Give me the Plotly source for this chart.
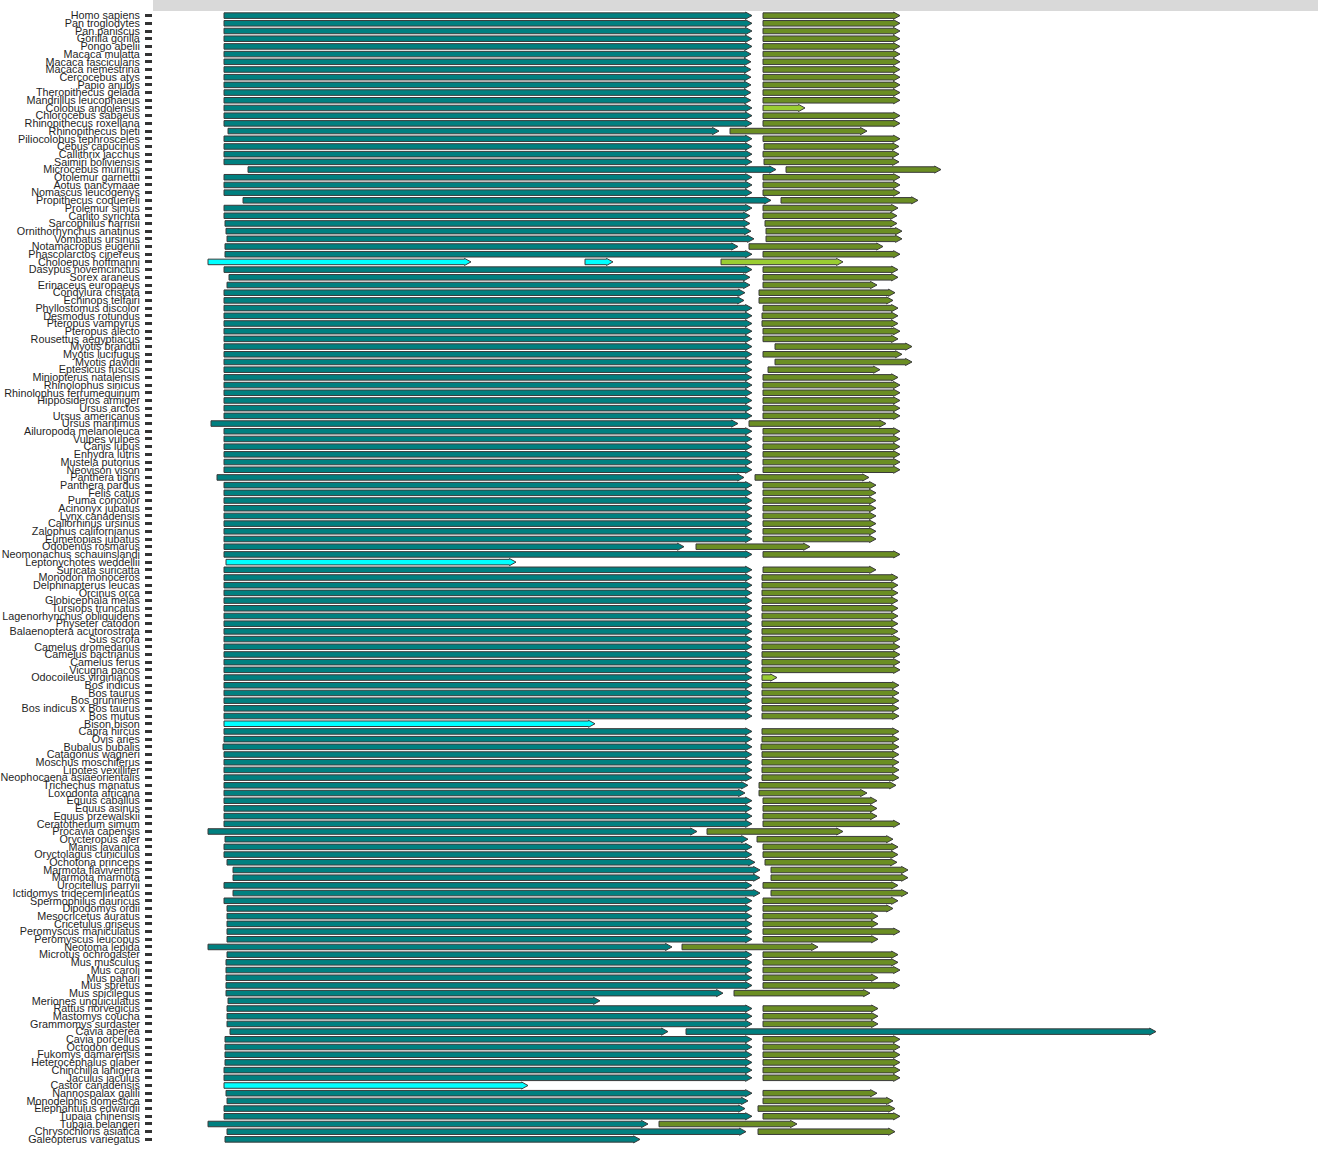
import plotly.graph_objects as go

# Species in plotting order (top to bottom)
species = [
    "Homo sapiens", "Pan troglodytes", "Pan paniscus", "Gorilla gorilla", "Pongo abelii",
    "Macaca mulatta", "Macaca fascicularis", "Macaca nemestrina", "Cercocebus atys", "Papio anubis",
    "Theropithecus gelada", "Mandrillus leucophaeus", "Colobus angolensis", "Chlorocebus sabaeus",
    "Rhinopithecus roxellana", "Rhinopithecus bieti", "Piliocolobus tephrosceles", "Cebus capucinus",
    "Callithrix jacchus", "Saimiri boliviensis", "Microcebus murinus", "Otolemur garnettii",
    "Aotus nancymaae", "Nomascus leucogenys", "Propithecus coquereli", "Prolemur simus",
    "Carlito syrichta", "Sarcophilus harrisii", "Ornithorhynchus anatinus", "Vombatus ursinus",
    "Notamacropus eugenii", "Phascolarctos cinereus", "Choloepus hoffmanni", "Dasypus novemcinctus",
    "Sorex araneus", "Erinaceus europaeus", "Condylura cristata", "Echinops telfairi",
    "Phyllostomus discolor", "Desmodus rotundus", "Pteropus vampyrus", "Pteropus alecto",
    "Rousettus aegyptiacus", "Myotis brandtii", "Myotis lucifugus", "Myotis davidii",
    "Eptesicus fuscus", "Miniopterus natalensis", "Rhinolophus sinicus", "Rhinolophus ferrumequinum",
    "Hipposideros armiger", "Ursus arctos", "Ursus americanus", "Ursus maritimus",
    "Ailuropoda melanoleuca", "Vulpes vulpes", "Canis lupus", "Enhydra lutris", "Mustela putorius",
    "Neovison vison", "Panthera tigris", "Panthera pardus", "Felis catus", "Puma concolor",
    "Acinonyx jubatus", "Lynx canadensis", "Callorhinus ursinus", "Zalophus californianus",
    "Eumetopias jubatus", "Odobenus rosmarus", "Neomonachus schauinslandi", "Leptonychotes weddellii",
    "Suricata suricatta", "Monodon monoceros", "Delphinapterus leucas", "Orcinus orca",
    "Globicephala melas", "Tursiops truncatus", "Lagenorhynchus obliquidens", "Physeter catodon",
    "Balaenoptera acutorostrata", "Sus scrofa", "Camelus dromedarius", "Camelus bactrianus",
    "Camelus ferus", "Vicugna pacos", "Odocoileus virginianus", "Bos indicus", "Bos taurus",
    "Bos grunniens", "Bos indicus x Bos taurus", "Bos mutus", "Bison bison", "Capra hircus",
    "Ovis aries", "Bubalus bubalis", "Catagonus wagneri", "Moschus moschiferus", "Lipotes vexillifer",
    "Neophocaena asiaeorientalis", "Trichechus manatus", "Loxodonta africana", "Equus caballus",
    "Equus asinus", "Equus przewalskii", "Ceratotherium simum", "Procavia capensis",
    "Orycteropus afer", "Manis javanica", "Oryctolagus cuniculus", "Ochotona princeps",
    "Marmota flaviventris", "Marmota marmota", "Urocitellus parryii", "Ictidomys tridecemlineatus",
    "Spermophilus dauricus", "Dipodomys ordii", "Mesocricetus auratus", "Cricetulus griseus",
    "Peromyscus maniculatus", "Peromyscus leucopus", "Neotoma lepida", "Microtus ochrogaster",
    "Mus musculus", "Mus caroli", "Mus pahari", "Mus spretus", "Mus spicilegus",
    "Meriones unguiculatus", "Rattus norvegicus", "Mastomys coucha", "Grammomys surdaster",
    "Cavia aperea", "Cavia porcellus", "Octodon degus", "Fukomys damarensis",
    "Heterocephalus glaber", "Chinchilla lanigera", "Jaculus jaculus", "Castor canadensis",
    "Nannospalax galili", "Monodelphis domestica", "Elephantulus edwardii", "Tupaia chinensis",
    "Tupaia belangeri", "Chrysochloris asiatica", "Galeopterus variegatus",
]

N = None
# Upstream gene (bp, relative to locus start); None where not annotated
gene1_start = [
    0, 0, 0, 0, 0, 0, 0, 0, 0, 0, 0, 0, 0, 0, 0, 160, 0, 0, 0, 0,
    960, 0, 0, 0, 760, 0, 0, 40, 80, 120, 40, 40, N, 0, 200, 120, 0, 0, 0, 0,
    0, 0, 0, 0, 0, 0, 0, 0, 0, 0, 0, 0, 0, -520, 0, 0, 0, 0, 0, 0,
    -280, 0, 0, 0, 0, 0, 0, 0, 0, 0, 0, N, 0, 0, 0, 0, 0, 0, 0, 0,
    0, 0, 0, 0, 0, 0, 0, 0, 0, 0, 0, 0, N, 0, 0, -40, 0, 0, 0, 0,
    0, 0, 0, 0, 0, 0, -640, 40, 0, 0, 120, 360, 360, 0, 360, 0, 120, 120, 120, 120,
    120, -640, 120, 80, 80, 80, 80, 80, 160, 120, 120, 120, 240, 40, 40, 40, 40, 0, 0, N,
    80, 120, 0, 0, -640, 120, 40,
]
gene1_end = [
    21120, 21120, 21120, 21120, 21120, 21080, 21080, 21080, 21080, 21080, 21080, 21080, 21120, 21120, 21120, 19800, 21120, 21120, 21120, 21120,
    22080, 21120, 21120, 21120, 21880, 21120, 21040, 21040, 21080, 21200, 20560, 21120, N, 21120, 21040, 21040, 20840, 20800, 21120, 21120,
    21120, 21120, 21120, 21120, 21120, 21120, 21120, 21120, 21120, 21120, 21120, 21120, 21120, 20560, 21120, 21120, 21120, 21120, 21120, 21120,
    20800, 21120, 21120, 21120, 21120, 21120, 21120, 21120, 21120, 18400, 21120, N, 21120, 21120, 21120, 21120, 21120, 21120, 21120, 21120,
    21120, 21120, 21120, 21120, 21120, 21120, 21120, 21120, 21120, 21120, 21120, 21120, N, 21120, 21120, 21120, 21120, 21120, 21120, 21120,
    20960, 20840, 21120, 21120, 21120, 21120, 18920, 20960, 21120, 21120, 21240, 21440, 21440, 21120, 21440, 21120, 21120, 21120, 21120, 21120,
    21120, 17920, 21120, 21120, 21120, 21120, 21120, 19960, 15040, 21120, 21120, 21120, 17760, 21120, 21120, 21120, 21120, 21120, 21120, N,
    21120, 20960, 20840, 21120, 16960, 20880, 16640,
]
# Downstream gene
gene2_start = [
    21560, 21560, 21560, 21560, 21560, 21560, 21560, 21560, 21560, 21560, 21560, 21560, 21560, 21560, 21560, 20240, 21560, 21600, 21560, 21600,
    22480, 21560, 21560, 21560, 22280, 21560, 21560, 21640, 21680, 21680, 21000, 21560, 19880, 21560, 21560, 21560, 21400, 21400, 21560, 21520,
    21520, 21560, 21560, 22040, 21560, 22040, 21760, 21560, 21560, 21560, 21560, 21560, 21560, 21000, 21560, 21560, 21560, 21560, 21560, 21560,
    21240, 21560, 21560, 21560, 21560, 21560, 21560, 21560, 21560, 18880, 21560, N, 21560, 21520, 21520, 21520, 21520, 21520, 21520, 21520,
    21520, 21520, 21520, 21520, 21520, 21520, 21520, 21520, 21520, 21520, 21520, 21520, N, 21520, 21520, 21480, 21520, 21520, 21520, 21520,
    21400, 21400, 21560, 21560, 21560, 21560, 19320, 21320, 21560, 21560, 21640, 21880, 21880, 21560, 21880, 21560, 21560, 21560, 21560, 21560,
    21560, 18320, 21560, 21560, 21560, 21560, 21560, 20400, N, 21560, 21560, 21560, N, 21560, 21560, 21560, 21560, 21560, 21560, N,
    21560, 21560, 21360, 21560, 17400, 21360, N,
]
gene2_end = [
    27040, 27040, 27040, 27040, 27040, 27040, 27040, 27040, 27040, 27040, 27040, 27040, 23240, 27040, 27040, 25720, 27040, 27000, 27000, 27000,
    28680, 27040, 27040, 27040, 27760, 26960, 26920, 26920, 27120, 27120, 26360, 27040, 24760, 26960, 26960, 26120, 26840, 26760, 26960, 26960,
    26960, 27040, 26960, 27520, 27120, 27520, 26240, 26960, 27040, 27040, 27040, 27040, 27040, 26480, 27040, 27040, 27040, 27040, 27040, 27040,
    25800, 26080, 26080, 26080, 26080, 26080, 26080, 26080, 26080, 23440, 27040, N, 26080, 26960, 26960, 26960, 26960, 26960, 26960, 26960,
    26960, 27040, 27040, 27040, 27040, 27040, 22120, 27000, 27000, 27000, 27000, 27000, N, 27000, 27000, 27000, 27000, 27000, 27000, 27000,
    26880, 25720, 26120, 26120, 26120, 27040, 24760, 26760, 26960, 26960, 26920, 27360, 27360, 26960, 27360, 26960, 26760, 26160, 26160, 27040,
    26160, 23760, 26960, 26960, 27040, 26160, 27040, 25840, N, 26160, 26160, 26160, N, 27040, 27040, 27040, 27040, 27040, 27040, N,
    26120, 26760, 26840, 27040, 22920, 26840, N,
]
# Rows where the downstream gene is only partially annotated
gene2_partial = ["Colobus angolensis", "Choloepus hoffmanni", "Odocoileus virginianus"]

# Additional features: fragments of the upstream gene and a second upstream copy
extra_species = ["Choloepus hoffmanni", "Choloepus hoffmanni", "Leptonychotes weddellii",
                 "Bison bison", "Castor canadensis", "Cavia aperea"]
extra_start = [-640, 14440, 80, 0, 0, 18480]
extra_end = [9880, 15560, 11680, 14840, 12160, 37280]
extra_kind = ["fragment", "fragment", "fragment", "fragment", "fragment", "gene1"]

fills = {
    "gene1": "#008080",
    "gene2": "#6B8E23",
    "gene2_partial": "#9ACD32",
    "fragment": "#00FFFF",
}

BODY = 0.36    # half height of arrow body (row units)
HEAD = 0.46    # half height of arrow head
HEAD_LEN = 260  # arrow head length (bp)

row_of = {s: i for i, s in enumerate(species)}


def arrow(x0, x1, y):
    L = min(HEAD_LEN, x1 - x0)
    xs = [x0, x1 - L, x1 - L, x1, x1 - L, x1 - L, x0, x0, None]
    ys = [y - BODY, y - BODY, y - HEAD, y, y + HEAD, y + BODY, y + BODY, y - BODY, None]
    return xs, ys


features = {k: ([], []) for k in fills}
for i, s in enumerate(species):
    if gene1_start[i] is not None:
        xs, ys = arrow(gene1_start[i], gene1_end[i], i)
        features["gene1"][0].extend(xs)
        features["gene1"][1].extend(ys)
    if gene2_start[i] is not None:
        kind = "gene2_partial" if s in gene2_partial else "gene2"
        xs, ys = arrow(gene2_start[i], gene2_end[i], i)
        features[kind][0].extend(xs)
        features[kind][1].extend(ys)
for s, a, b, k in zip(extra_species, extra_start, extra_end, extra_kind):
    xs, ys = arrow(a, b, row_of[s])
    features[k][0].extend(xs)
    features[k][1].extend(ys)

fig = go.Figure()
for k, (xs, ys) in features.items():
    fig.add_trace(go.Scatter(
        x=xs, y=ys, mode="lines", fill="toself", fillcolor=fills[k],
        line=dict(color="#3a3a3a", width=1), hoverinfo="skip", showlegend=False,
    ))

n = len(species)
fig.update_layout(
    width=1318, height=1151,
    margin=dict(l=153, r=0, t=11, b=7, autoexpand=False),
    plot_bgcolor="white", paper_bgcolor="white",
    font=dict(family="Liberation Sans, Arial, sans-serif", size=10.8, color="#1f1f1f"),
    xaxis=dict(range=[-2840, 43760], visible=False, fixedrange=True, automargin=False),
    yaxis=dict(
        range=[n - 1 + 0.6, -0.6], tickmode="array", tickvals=list(range(n)),
        ticktext=species, ticks="outside", ticklen=7, tickwidth=2.5, tickcolor="#333333",
        ticklabelstandoff=3, automargin=False,
        showgrid=False, zeroline=False, showline=False, fixedrange=True,
        tickfont=dict(size=10.8, color="#1f1f1f"),
    ),
    shapes=[dict(type="rect", xref="paper", yref="paper", x0=0, x1=1, y0=1,
                 y1=1 + 11 / 1133, fillcolor="#D9D9D9", line=dict(width=0), layer="below")],
)

fig.write_html("out.html")
